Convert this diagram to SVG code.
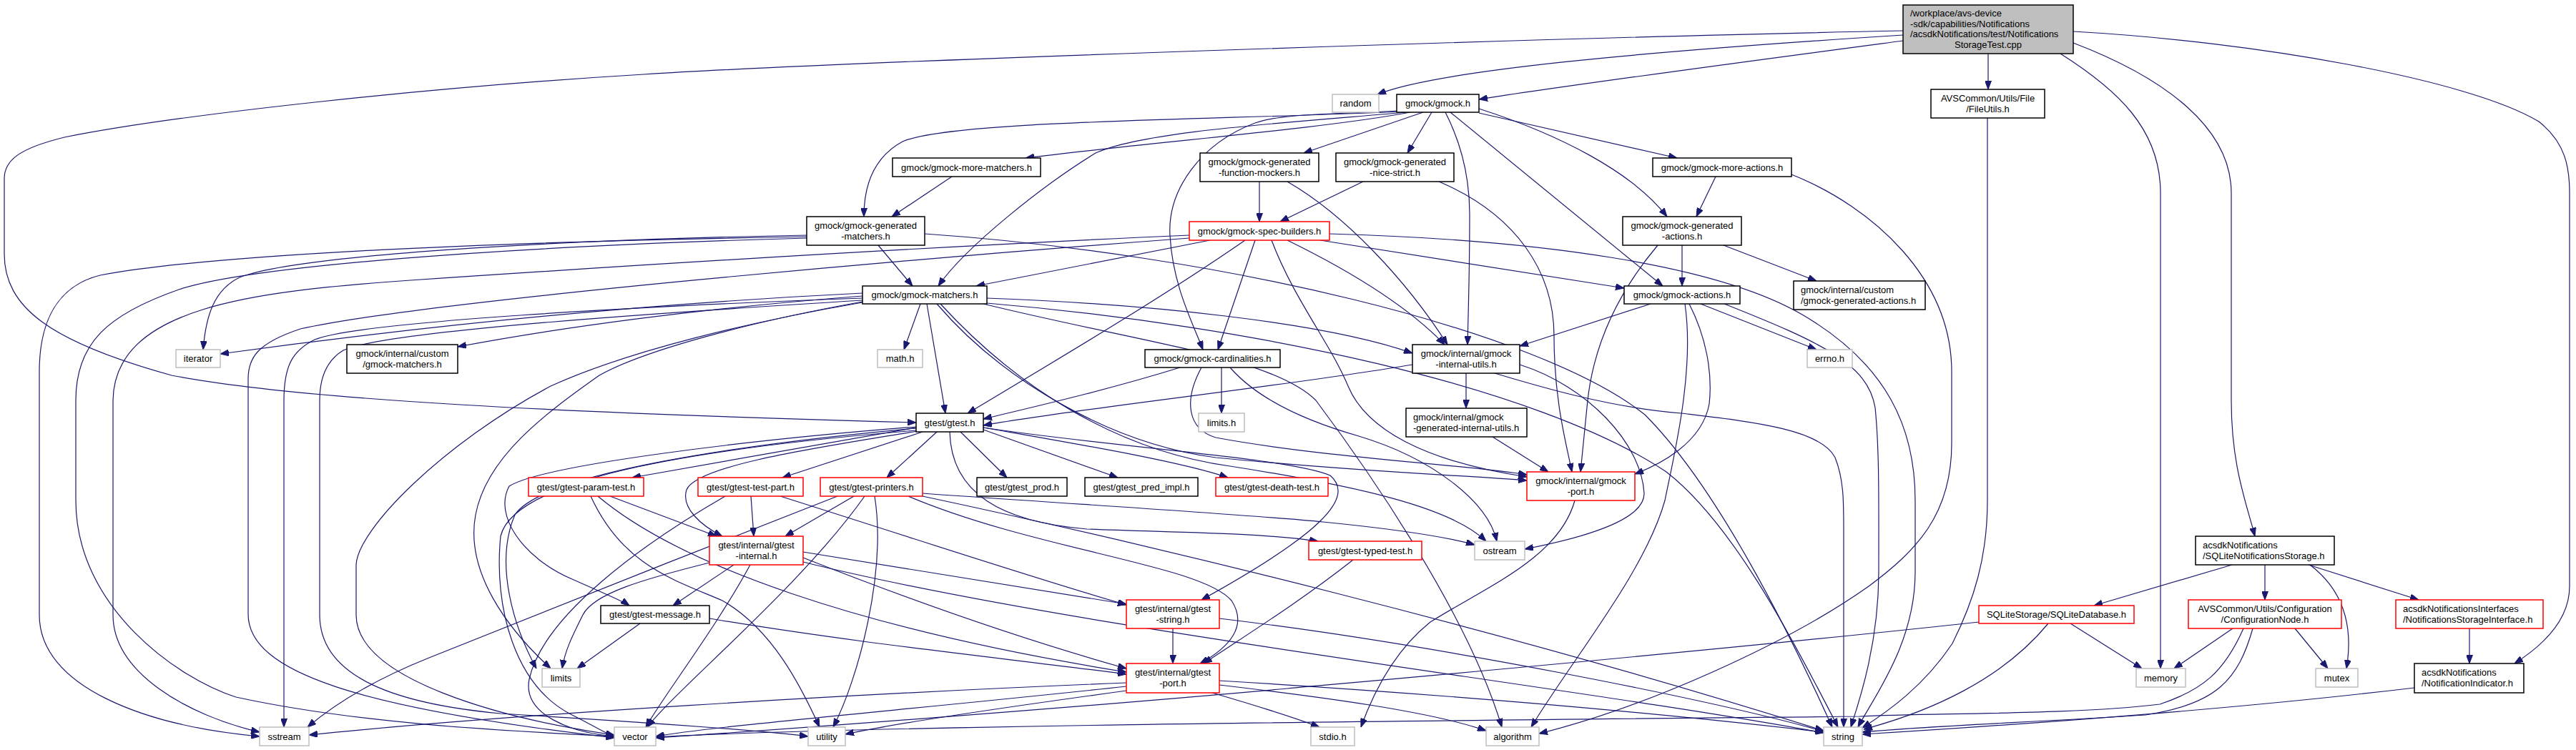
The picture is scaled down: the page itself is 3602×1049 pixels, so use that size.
<svg xmlns="http://www.w3.org/2000/svg" width="3602" height="1049" viewBox="0 0 3602 1049">
<style>
.nd rect{fill:#fff;stroke:#000;stroke-width:1.5}
.nd.r rect{stroke:#ff0000}
.nd.g rect{stroke:#bfbfbf}
.nd.root rect{fill:#bfbfbf}
.nd text{font-family:"Liberation Sans",Arial,Helvetica,sans-serif;font-size:13px;fill:#000;text-anchor:middle}
.nd text.l{text-anchor:start}
#edges path{fill:none;stroke:#191970;stroke-width:1.2;marker-end:url(#ah)}
</style>
<defs>
<marker id="ah" viewBox="0 0 12 9" refX="12" refY="4.5" markerWidth="12" markerHeight="9" markerUnits="userSpaceOnUse" orient="auto">
<path d="M0,0 L12,4.5 L0,9 z" fill="#191970" stroke="#191970" stroke-width="1"/>
</marker>
</defs>
<rect x="0" y="0" width="3602" height="1049" fill="#fff"/>
<g id="edges">
<path d="M2661,49 C2300,72 2010,98 1926,132"/>
<path d="M2661,57 C2450,85 2200,118 2068,139"/>
<path d="M2661,43 C2200,52 1200,85 900,104 C600,122 250,160 90,192 C25,208 6,225 6,250 L6,355 C6,430 70,478 240,525 C420,560 800,578 1281,591"/>
<path d="M2780,75 L2780,125"/>
<path d="M2881,75 C2960,125 3021,180 3021,270 L3021,935"/>
<path d="M2899,60 C3030,110 3120,180 3120,270 L3120,560 C3120,650 3140,700 3153,750"/>
<path d="M2899,44 C3150,58 3450,110 3550,170 C3588,200 3593,235 3593,270 L3593,820 C3593,865 3560,900 3516,928"/>
<path d="M1972,157 C1850,180 1600,200 1434,221"/>
<path d="M1960,156 C1700,168 1330,168 1262,198 C1218,222 1208,265 1208,303"/>
<path d="M1966,157 C1800,172 1600,183 1532,214 C1460,258 1350,345 1312,400"/>
<path d="M1956,155 C1870,160 1795,158 1755,172 C1680,200 1632,265 1636,330 C1640,400 1668,452 1682,489"/>
<path d="M1990,157 L1823,214"/>
<path d="M2002,157 L1968,214"/>
<path d="M2021,157 C2043,200 2055,250 2055,300 C2055,380 2053,440 2052,482"/>
<path d="M2028,157 L2325,400"/>
<path d="M2068,152 C2180,188 2282,240 2331,303"/>
<path d="M2068,158 L2345,221"/>
<path d="M2779,165 L2779,700 C2779,780 2760,840 2730,900 C2690,960 2640,995 2604,1018"/>
<path d="M1331,247 L1247,303"/>
<path d="M1761,254 L1761,310"/>
<path d="M1800,254 C1880,300 1965,390 2024,482"/>
<path d="M1906,254 L1790,310"/>
<path d="M2012,254 C2120,300 2173,380 2173,470 C2173,560 2190,620 2198,660"/>
<path d="M2399,247 L2372,303"/>
<path d="M2505,244 C2620,290 2729,390 2729,520 L2729,620 C2729,720 2680,770 2613,820 C2500,900 2300,990 2152,1026"/>
<path d="M1228,343 L1276,400"/>
<path d="M1128,329 C800,335 420,355 335,388 C300,405 288,440 284,489"/>
<path d="M1128,331 C700,338 300,355 140,385 C80,400 55,450 55,520 L55,860 C55,960 200,1015 363,1030"/>
<path d="M1128,333 C700,345 350,372 250,405 C150,440 106,480 106,560 L106,700 C106,850 250,950 330,975 C500,1012 700,1022 859,1030"/>
<path d="M1293,327 C1700,355 2150,460 2300,580 C2400,680 2500,880 2562,1017"/>
<path d="M1692,336 L1365,400"/>
<path d="M1741,336 C1620,420 1450,520 1353,578"/>
<path d="M1755,336 L1703,489"/>
<path d="M1800,336 C1890,380 1970,430 2020,482"/>
<path d="M1846,336 L2271,403"/>
<path d="M1778,336 C1810,420 1860,480 1885,540 C1910,600 1990,645 2135,667"/>
<path d="M1859,327 C2150,335 2400,370 2520,440 C2640,510 2678,600 2678,700 L2678,800 C2678,900 2620,975 2598,1017"/>
<path d="M1663,329 C1300,345 900,370 574,392 C350,408 160,430 158,560 L158,860 C158,940 260,1000 363,1024"/>
<path d="M1663,333 C1300,360 600,420 420,460 C360,480 347,500 347,530 L347,859 C347,940 500,990 859,1032"/>
<path d="M2352,343 L2352,400"/>
<path d="M2410,343 L2540,393"/>
<path d="M2318,343 C2270,400 2230,470 2220,560 C2215,610 2212,640 2210,660"/>
<path d="M1287,425 L1264,489"/>
<path d="M1296,425 L1322,578"/>
<path d="M1310,425 C1400,530 1550,620 1700,640 C1900,660 2050,665 2135,672"/>
<path d="M1315,425 C1420,540 1560,630 1720,652 C1900,680 2030,710 2078,757"/>
<path d="M1380,417 C1600,425 1850,450 1975,494"/>
<path d="M1380,424 C1750,455 2150,540 2330,660 C2420,730 2500,880 2570,1017"/>
<path d="M1375,425 C1600,480 1780,500 1840,560 C1900,640 2050,850 2100,1017"/>
<path d="M1206,410 C900,425 600,455 308,495"/>
<path d="M1206,414 C1000,430 800,455 640,485"/>
<path d="M1206,422 C1050,450 900,490 838,525 C760,580 680,640 665,720 C650,800 710,880 770,935"/>
<path d="M1206,417 C900,428 500,450 440,475 C410,490 397,510 397,560 L397,1017"/>
<path d="M1206,420 C950,436 540,462 480,490 C455,505 447,530 447,560 L447,860 C447,950 560,985 700,998 C900,1010 1050,1020 1130,1030"/>
<path d="M1206,423 C1050,450 880,490 770,540 C620,620 500,740 498,790 L498,860 C498,950 700,1005 859,1028"/>
<path d="M2308,425 L2125,484"/>
<path d="M2362,425 C2385,470 2395,520 2390,565 C2380,620 2320,650 2286,663"/>
<path d="M2378,425 L2540,489"/>
<path d="M2356,425 C2370,520 2340,640 2328,700 C2300,800 2200,920 2141,1017"/>
<path d="M2411,425 C2550,480 2612,510 2622,570 C2628,630 2627,700 2627,800 C2627,900 2600,980 2588,1017"/>
<path d="M1708,514 L1708,578"/>
<path d="M1650,514 C1550,545 1450,568 1375,586"/>
<path d="M1720,514 C1760,560 1830,590 1900,610 C2000,640 2080,700 2093,757"/>
<path d="M1680,514 C1655,560 1660,600 1700,612 C1850,640 2050,650 2135,664"/>
<path d="M2050,522 L2050,571"/>
<path d="M1975,510 C1800,540 1500,572 1375,595"/>
<path d="M2125,510 C2220,540 2295,620 2299,690 C2300,730 2200,755 2132,768"/>
<path d="M2090,522 C2150,540 2250,570 2351,578 C2450,590 2546,600 2566,640 C2578,670 2578,700 2578,740 L2578,1017"/>
<path d="M2087,611 L2165,660"/>
<path d="M2202,700 C2180,780 2080,820 2000,870 C1950,910 1920,970 1903,1017"/>
<path d="M1281,598 L884,668"/>
<path d="M1290,604 L1094,668"/>
<path d="M1310,604 L1240,668"/>
<path d="M1343,604 L1408,668"/>
<path d="M1375,601 L1563,668"/>
<path d="M1375,598 C1500,620 1650,645 1717,668"/>
<path d="M1283,603 C1150,625 975,650 960,685 C952,710 980,735 1010,750"/>
<path d="M1281,597 C1050,615 760,650 712,680 C690,720 730,780 800,810 C840,828 870,840 880,847"/>
<path d="M1281,599 C1050,620 760,660 720,720 C690,790 720,880 750,935"/>
<path d="M1281,602 C1000,625 720,665 700,750 C690,850 720,960 800,1000 C830,1015 845,1025 859,1030"/>
<path d="M1375,598 C1550,625 1800,640 1860,665 C1895,695 1850,745 1680,839"/>
<path d="M1328,604 C1330,690 1400,730 1520,740 C1650,745 1760,745 1843,757"/>
<path d="M853,694 L1002,750"/>
<path d="M836,694 C950,790 1200,880 1575,940"/>
<path d="M826,694 C870,790 940,810 1010,840 C1080,880 1120,960 1146,1017"/>
<path d="M1050,694 L1054,750"/>
<path d="M1091,694 C1300,760 1450,810 1575,846"/>
<path d="M1014,694 C900,760 760,860 740,950 C730,1000 800,1025 859,1030"/>
<path d="M1194,694 L1098,750"/>
<path d="M1171,694 C1000,760 700,880 600,920 C500,960 450,1000 430,1017"/>
<path d="M1209,694 C1120,820 950,960 905,1017"/>
<path d="M1223,694 C1240,800 1200,950 1165,1017"/>
<path d="M1290,690 C1500,705 1750,720 1850,730 C1950,740 2020,750 2062,762"/>
<path d="M1290,694 C1600,760 2100,880 2550,1022"/>
<path d="M1270,694 C1450,770 1680,790 1722,840 C1745,875 1720,905 1678,928"/>
<path d="M1026,790 L941,847"/>
<path d="M1123,772 C1300,800 1450,825 1575,845"/>
<path d="M1123,780 C1300,850 1450,900 1575,935"/>
<path d="M1123,786 C1500,880 2200,960 2550,1025"/>
<path d="M992,787 C900,810 830,830 815,860 C800,890 790,910 786,935"/>
<path d="M1049,790 C1000,880 930,970 903,1017"/>
<path d="M1892,783 C1820,840 1740,890 1683,928"/>
<path d="M895,872 L807,935"/>
<path d="M992,865 C1200,900 1400,920 1575,943"/>
<path d="M1640,879 L1640,928"/>
<path d="M1705,865 C2000,900 2400,980 2550,1023"/>
<path d="M1575,955 C1200,970 700,1000 432,1028"/>
<path d="M1575,960 C1300,990 1000,1015 917,1030"/>
<path d="M1575,966 C1400,990 1250,1012 1182,1027"/>
<path d="M1695,969 C1750,985 1800,1000 1845,1017"/>
<path d="M1705,958 C1850,975 2000,995 2078,1022"/>
<path d="M1705,952 C2000,970 2300,995 2550,1024"/>
<path d="M3121,790 L2928,847"/>
<path d="M3167,790 L3167,839"/>
<path d="M3228,790 L3382,839"/>
<path d="M3230,790 C3272,822 3292,870 3281,935"/>
<path d="M2895,872 L2995,935"/>
<path d="M2864,872 C2800,950 2700,995 2606,1020"/>
<path d="M2767,870 C2400,910 2000,945 1800,963 C1500,990 1100,1020 917,1032"/>
<path d="M3122,879 L3040,935"/>
<path d="M3209,879 L3255,935"/>
<path d="M3137,879 C3110,940 3080,965 3020,985 C2900,1000 2700,997 2600,1002 C2000,1008 1200,1015 917,1031"/>
<path d="M3150,879 C3130,950 3100,985 3000,1000 C2850,1010 2700,1015 2604,1024"/>
<path d="M3453,879 L3453,928"/>
<path d="M3376,962 C3100,995 2800,1015 2604,1027"/>
</g>
<g id="n_main" class="nd root"><rect x="2661" y="7" width="238" height="68"/><text class="l" x="2671" y="23">/workplace/avs-device</text><text class="l" x="2671" y="38">-sdk/capabilities/Notifications</text><text class="l" x="2671" y="52">/acsdkNotifications/test/Notifications</text><text x="2780" y="67">StorageTest.cpp</text></g>
<g id="n_random" class="nd g"><rect x="1863" y="132" width="65" height="25"/><text x="1895.5" y="149">random</text></g>
<g id="n_gmock" class="nd"><rect x="1953" y="132" width="115" height="25"/><text x="2010.5" y="149">gmock/gmock.h</text></g>
<g id="n_fileutils" class="nd"><rect x="2700" y="125" width="159" height="40"/><text x="2779.5" y="141.5">AVSCommon/Utils/File</text><text x="2779.5" y="156.5">/FileUtils.h</text></g>
<g id="n_moremat" class="nd"><rect x="1248" y="221" width="207" height="26"/><text x="1351.5" y="238.5">gmock/gmock-more-matchers.h</text></g>
<g id="n_funcmock" class="nd"><rect x="1678" y="214" width="166" height="40"/><text x="1761" y="230.5">gmock/gmock-generated</text><text x="1761" y="245.5">-function-mockers.h</text></g>
<g id="n_nicestrict" class="nd"><rect x="1868" y="214" width="165" height="40"/><text x="1950.5" y="230.5">gmock/gmock-generated</text><text x="1950.5" y="245.5">-nice-strict.h</text></g>
<g id="n_moreact" class="nd"><rect x="2311" y="221" width="194" height="26"/><text x="2408" y="238.5">gmock/gmock-more-actions.h</text></g>
<g id="n_genmat" class="nd"><rect x="1128" y="303" width="165" height="40"/><text x="1210.5" y="319.5">gmock/gmock-generated</text><text x="1210.5" y="334.5">-matchers.h</text></g>
<g id="n_spec" class="nd r"><rect x="1663" y="310" width="196" height="26"/><text x="1761" y="327.5">gmock/gmock-spec-builders.h</text></g>
<g id="n_genact" class="nd"><rect x="2269" y="303" width="166" height="40"/><text x="2352" y="319.5">gmock/gmock-generated</text><text x="2352" y="334.5">-actions.h</text></g>
<g id="n_gmockmat" class="nd"><rect x="1206" y="400" width="174" height="25"/><text x="1293" y="417">gmock/gmock-matchers.h</text></g>
<g id="n_gmockact" class="nd"><rect x="2271" y="400" width="162" height="25"/><text x="2352" y="417">gmock/gmock-actions.h</text></g>
<g id="n_customgenact" class="nd"><rect x="2508" y="393" width="184" height="40"/><text class="l" x="2518" y="409.5">gmock/internal/custom</text><text class="l" x="2518" y="424.5">/gmock-generated-actions.h</text></g>
<g id="n_iterator" class="nd g"><rect x="246" y="489" width="62" height="25"/><text x="277" y="506">iterator</text></g>
<g id="n_custommat" class="nd"><rect x="485" y="482" width="155" height="40"/><text x="562.5" y="498.5">gmock/internal/custom</text><text x="562.5" y="513.5">/gmock-matchers.h</text></g>
<g id="n_math" class="nd g"><rect x="1227" y="489" width="63" height="25"/><text x="1258.5" y="506">math.h</text></g>
<g id="n_card" class="nd"><rect x="1601" y="489" width="189" height="25"/><text x="1695.5" y="506">gmock/gmock-cardinalities.h</text></g>
<g id="n_iutils" class="nd"><rect x="1975" y="482" width="150" height="40"/><text x="2050" y="498.5">gmock/internal/gmock</text><text x="2050" y="513.5">-internal-utils.h</text></g>
<g id="n_errno" class="nd g"><rect x="2527" y="489" width="63" height="25"/><text x="2558.5" y="506">errno.h</text></g>
<g id="n_gtest" class="nd"><rect x="1281" y="578" width="94" height="26"/><text x="1328" y="595.5">gtest/gtest.h</text></g>
<g id="n_limitsh" class="nd g"><rect x="1676" y="578" width="64" height="26"/><text x="1708" y="595.5">limits.h</text></g>
<g id="n_geniutils" class="nd"><rect x="1966" y="571" width="169" height="40"/><text class="l" x="1976" y="587.5">gmock/internal/gmock</text><text class="l" x="1976" y="602.5">-generated-internal-utils.h</text></g>
<g id="n_param" class="nd r"><rect x="739" y="668" width="161" height="26"/><text x="819.5" y="685.5">gtest/gtest-param-test.h</text></g>
<g id="n_testpart" class="nd r"><rect x="976" y="668" width="147" height="26"/><text x="1049.5" y="685.5">gtest/gtest-test-part.h</text></g>
<g id="n_printers" class="nd r"><rect x="1147" y="668" width="143" height="26"/><text x="1218.5" y="685.5">gtest/gtest-printers.h</text></g>
<g id="n_prod" class="nd"><rect x="1366" y="668" width="126" height="26"/><text x="1429" y="685.5">gtest/gtest_prod.h</text></g>
<g id="n_pred" class="nd"><rect x="1517" y="668" width="158" height="26"/><text x="1596" y="685.5">gtest/gtest_pred_impl.h</text></g>
<g id="n_death" class="nd r"><rect x="1700" y="668" width="157" height="26"/><text x="1778.5" y="685.5">gtest/gtest-death-test.h</text></g>
<g id="n_gmockport" class="nd r"><rect x="2135" y="660" width="151" height="40"/><text x="2210.5" y="676.5">gmock/internal/gmock</text><text x="2210.5" y="691.5">-port.h</text></g>
<g id="n_ginternal" class="nd r"><rect x="992" y="750" width="131" height="40"/><text x="1057.5" y="766.5">gtest/internal/gtest</text><text x="1057.5" y="781.5">-internal.h</text></g>
<g id="n_typed" class="nd r"><rect x="1830" y="757" width="158" height="26"/><text x="1909" y="774.5">gtest/gtest-typed-test.h</text></g>
<g id="n_ostream" class="nd g"><rect x="2062" y="757" width="70" height="26"/><text x="2097" y="774.5">ostream</text></g>
<g id="n_sqlstorage" class="nd"><rect x="3070" y="750" width="194" height="40"/><text class="l" x="3080" y="766.5">acsdkNotifications</text><text class="l" x="3080" y="781.5">/SQLiteNotificationsStorage.h</text></g>
<g id="n_message" class="nd"><rect x="840" y="847" width="152" height="25"/><text x="916" y="864">gtest/gtest-message.h</text></g>
<g id="n_gstring" class="nd r"><rect x="1575" y="839" width="130" height="40"/><text x="1640" y="855.5">gtest/internal/gtest</text><text x="1640" y="870.5">-string.h</text></g>
<g id="n_sqldb" class="nd r"><rect x="2767" y="847" width="217" height="25"/><text x="2875.5" y="864">SQLiteStorage/SQLiteDatabase.h</text></g>
<g id="n_confnode" class="nd r"><rect x="3060" y="839" width="214" height="40"/><text x="3167" y="855.5">AVSCommon/Utils/Configuration</text><text x="3167" y="870.5">/ConfigurationNode.h</text></g>
<g id="n_nsi" class="nd r"><rect x="3350" y="839" width="206" height="40"/><text class="l" x="3360" y="855.5">acsdkNotificationsInterfaces</text><text class="l" x="3360" y="870.5">/NotificationsStorageInterface.h</text></g>
<g id="n_limits" class="nd g"><rect x="758" y="935" width="53" height="26"/><text x="784.5" y="952.5">limits</text></g>
<g id="n_gport" class="nd r"><rect x="1575" y="928" width="130" height="41"/><text x="1640" y="944.5">gtest/internal/gtest</text><text x="1640" y="959.5">-port.h</text></g>
<g id="n_memory" class="nd g"><rect x="2987" y="935" width="69" height="26"/><text x="3021.5" y="952.5">memory</text></g>
<g id="n_mutex" class="nd g"><rect x="3238" y="935" width="59" height="26"/><text x="3267.5" y="952.5">mutex</text></g>
<g id="n_nind" class="nd"><rect x="3376" y="928" width="153" height="41"/><text class="l" x="3386" y="944.5">acsdkNotifications</text><text class="l" x="3386" y="959.5">/NotificationIndicator.h</text></g>
<g id="n_sstream" class="nd g"><rect x="363" y="1017" width="69" height="26"/><text x="397.5" y="1034.5">sstream</text></g>
<g id="n_vector" class="nd g"><rect x="859" y="1017" width="58" height="26"/><text x="888" y="1034.5">vector</text></g>
<g id="n_utility" class="nd g"><rect x="1130" y="1017" width="52" height="26"/><text x="1156" y="1034.5">utility</text></g>
<g id="n_stdio" class="nd g"><rect x="1833" y="1017" width="61" height="26"/><text x="1863.5" y="1034.5">stdio.h</text></g>
<g id="n_algorithm" class="nd g"><rect x="2078" y="1017" width="74" height="26"/><text x="2115" y="1034.5">algorithm</text></g>
<g id="n_string" class="nd g"><rect x="2550" y="1017" width="54" height="26"/><text x="2577" y="1034.5">string</text></g>
</svg>
